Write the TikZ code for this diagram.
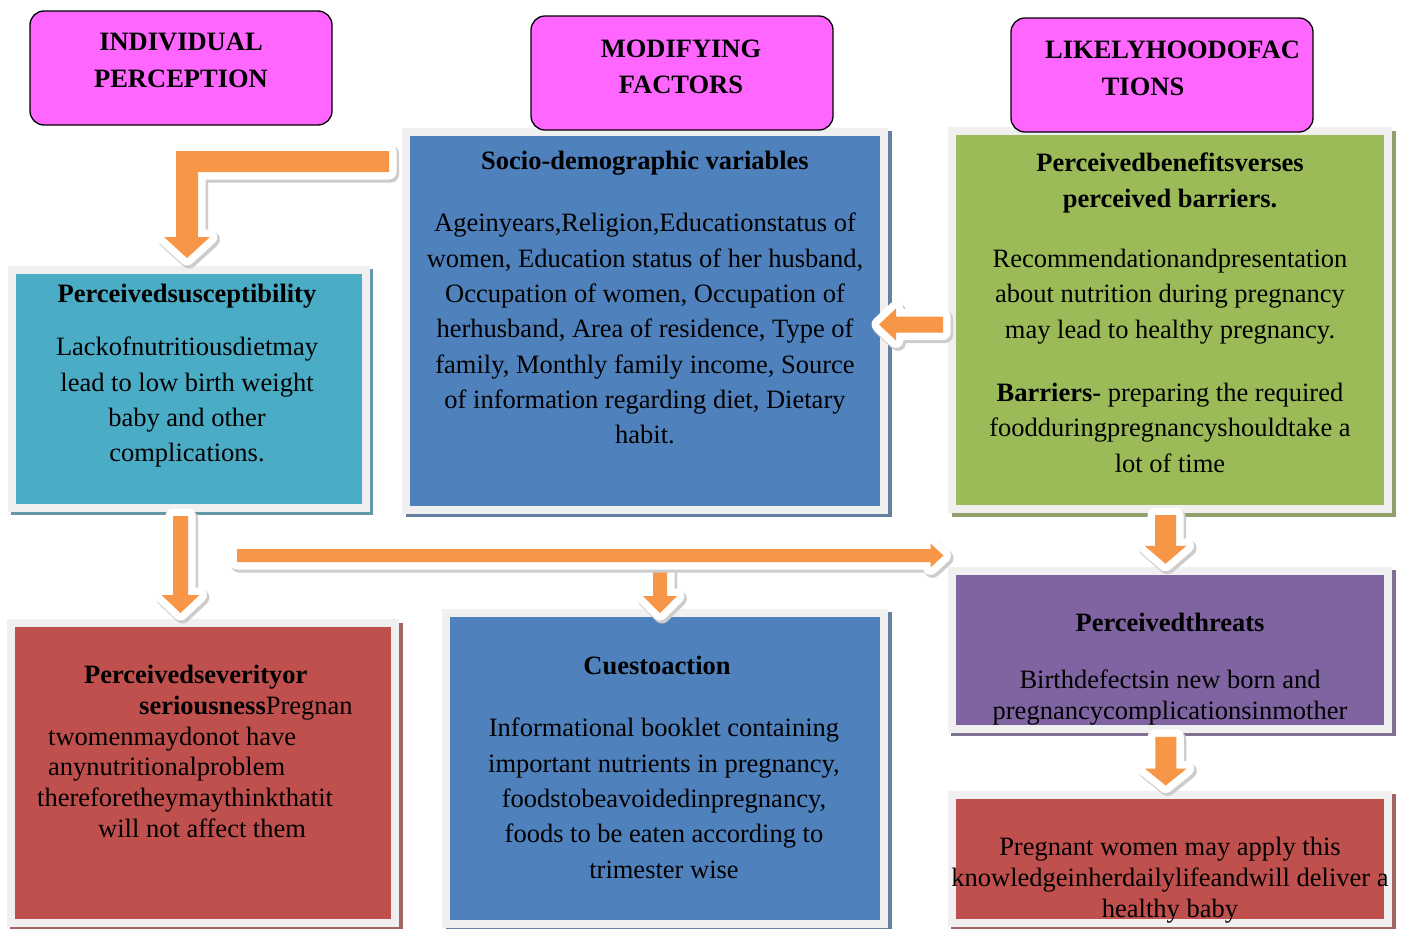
\documentclass[tikz,border=0pt]{standalone}
\usepackage{fontspec}
\setmainfont{Liberation Serif}
\usetikzlibrary{calc}
\definecolor{pinkc}{HTML}{FF66FF}
\definecolor{bluec}{HTML}{4F81BD}
\definecolor{greenc}{HTML}{9BBB59}
\definecolor{tealc}{HTML}{4BACC6}
\definecolor{redc}{HTML}{C0504D}
\definecolor{purplec}{HTML}{8064A2}
\definecolor{orangec}{HTML}{F79646}
\definecolor{framec}{HTML}{F0F0F0}
\tikzset{
 hdr/.style={draw=black, line width=1.3pt, rounded corners=14pt, fill=pinkc, minimum width=302pt, minimum height=114pt, inner sep=0pt},
 panel/.style={fill=#1, draw=framec, line width=8pt, inner sep=0pt,
   preaction={draw=#1!55!gray, line width=8pt, transform canvas={shift={(3.5pt,-3.5pt)}}}},
 txt/.style={inner sep=0pt, anchor=north, align=center, font=\fontsize{26.5}{35.3}\selectfont},
 btxt/.style={txt, font=\bfseries\fontsize{26.5}{36}\selectfont},
 fat/.style={fill=orangec, line join=round,
   preaction={draw=black!20, line width=16pt, line join=round, transform canvas={shift={(2pt,-2.5pt)}}},
   preaction={draw=white, line width=15pt, line join=round}},
}
% vertical arrow pointing down: start, tip, shaft half width, head half width, head length
\newcommand\fatdown[5]{\path[fat] let \p1=(#1), \p2=(#2) in
  (\x2-#3,\y1) -- (\x2+#3,\y1) -- (\x2+#3,\y2+#5) -- (\x2+#4,\y2+#5) -- (\p2)
  -- (\x2-#4,\y2+#5) -- (\x2-#3,\y2+#5) -- cycle;}
\newcommand\fatleft[5]{\path[fat] let \p1=(#1), \p2=(#2) in
  (\x1,\y2+#3) -- (\x2+#5,\y2+#3) -- (\x2+#5,\y2+#4) -- (\p2)
  -- (\x2+#5,\y2-#4) -- (\x2+#5,\y2-#3) -- (\x1,\y2-#3) -- cycle;}
\newcommand\fatright[5]{\path[fat] let \p1=(#1), \p2=(#2) in
  (\x1,\y2+#3) -- (\x2-#5,\y2+#3) -- (\x2-#5,\y2+#4) -- (\p2)
  -- (\x2-#5,\y2-#4) -- (\x2-#5,\y2-#3) -- (\x1,\y2-#3) -- cycle;}
\begin{document}
\begin{tikzpicture}[x=1pt,y=-1pt]
\useasboundingbox[fill=white] (0,0) rectangle (1406,929);
% panels
\node[panel=bluec, minimum width=478pt, minimum height=378pt] (socio) at (645,320.5) {};
\node[panel=greenc, minimum width=436pt, minimum height=378pt] (benefits) at (1170,320) {};
\node[panel=tealc, minimum width=354pt, minimum height=238pt] (suscept) at (188.5,388.5) {};
\node[panel=redc, minimum width=384.5pt, minimum height=299.5pt] (severity) at (202.75,772.75) {};
\node[panel=bluec, minimum width=438pt, minimum height=311pt] (cues) at (665,768) {};
\node[panel=purplec, minimum width=436.5pt, minimum height=158pt] (threats) at (1169.75,649.75) {};
\node[panel=redc, minimum width=436.5pt, minimum height=128.5pt] (outcome) at (1169.75,858.75) {};
% header boxes
\node[hdr] (p1) at (181,68) {};
\node[hdr] (p2) at (682,73) {};
\node[hdr] (p3) at (1162,75) {};
% connector coordinates
\coordinate (e1) at ([xshift=-13pt,yshift=-34pt]socio.north west);
\coordinate (e2) at ([xshift=-1.5pt,yshift=7.5pt]suscept.north);
\coordinate (a2s) at ([xshift=-8pt,yshift=-4.5pt]suscept.south);
\coordinate (a2e) at ($(a2s |- severity.north)+(0,-6)$);
\coordinate (a3s) at ($(benefits.west)+(-5,4.5)$);
\coordinate (a3e) at ($(socio.east |- a3s)+(-9,0)$);
\coordinate (a4s) at ($(benefits.south)+(-4.5,2)$);
\coordinate (a4e) at ($(a4s |- threats.north)+(0,-3)$);
\coordinate (a5s) at ($(threats.south)+(-4,4)$);
\coordinate (a5e) at ($(a5s |- outcome.north)+(0,-5)$);
\coordinate (h1s) at ($(suscept.south east)+(-132.5,44)$);
\coordinate (h1e) at ($(threats.west |- h1s)+(-4,0)$);
\coordinate (h2s) at ($(h1s -| cues.north)+(-5,6)$);
\coordinate (h2e) at ($(h2s |- cues.north)+(0,4.5)$);
% arrows
\path[fat] let \p1=(e1), \p2=(e2) in
  (\x1,\y1+10.5pt) -- (\x2-11pt,\y1+10.5pt) -- (\x2-11pt,\y2+21pt) -- (\x2-23pt,\y2+21pt) -- (\p2)
  -- (\x2+23pt,\y2+21pt) -- (\x2+11pt,\y2+21pt) -- (\x2+11pt,\y1-10.5pt) -- (\x1,\y1-10.5pt) -- cycle;
\fatdown{a2s}{a2e}{7.5pt}{19pt}{18pt}
\fatleft{a3s}{a3e}{8pt}{16pt}{17pt}
\fatdown{a4s}{a4e}{10.5pt}{21pt}{18pt}
\fatdown{a5s}{a5e}{10.5pt}{21pt}{17pt}
\fatdown{h2s}{h2e}{7pt}{17pt}{17pt}
\fatright{h1s}{h1e}{6.5pt}{12pt}{13pt}
% header texts
\node[btxt, font=\bfseries\fontsize{26.5}{37}\selectfont] (p1t) at (181,33) {INDIVIDUAL\\PERCEPTION};
\node[btxt] (p2t) at (681,40) {MODIFYING\\FACTORS};
\node[btxt, anchor=north west] (p3a) at (1045,41) {LIKELYHOODOFAC};
\node[btxt] (p3b) at (1143,78) {TIONS};
% panel texts
\node[btxt] (sociot) at (645,151) {Socio-demographic variables};
\node[txt] (sociob) at (645,213) {Ageinyears,Religion,Educationstatus of\\women, Education status of her husband,\\Occupation of women, Occupation of\\herhusband, Area of residence, Type of\\family, Monthly family income, Source\\of information regarding diet, Dietary\\habit.};
\node[btxt] (susceptt) at (187,284) {Perceivedsusceptibility};
\node[txt] (susceptb) at (187,337) {Lackofnutritiousdietmay\\lead to low birth weight\\baby and other\\complications.};
\node[btxt] (benefitst) at (1170,153) {Perceivedbenefitsverses\\perceived barriers.};
\node[txt] (benefitsb) at (1170,249) {Recommendationandpresentation\\about nutrition during pregnancy\\may lead to healthy pregnancy.};
\node[txt] (barriers) at (1170,383) {\textbf{Barriers-} preparing the required\\foodduringpregnancyshouldtake a\\lot of time};
\node[txt, anchor=north west, align=left, font=\fontsize{26.5}{30.8}\selectfont] (severityt) at (37,665)
 {\hspace*{47pt}\textbf{Perceivedseverityor}\\\hspace*{102pt}\textbf{seriousness}Pregnan\\\hspace*{11pt}twomenmaydonot have\\\hspace*{11pt}anynutritionalproblem\\thereforetheymaythinkthatit\\\hspace*{61pt}will not affect them};
\node[btxt] (cuest) at (657,656) {Cuestoaction};
\node[txt] (cuesb) at (664,718) {Informational booklet containing\\important nutrients in pregnancy,\\foodstobeavoidedinpregnancy,\\foods to be eaten according to\\trimester wise};
\node[btxt] (threatst) at (1170,613) {Perceivedthreats};
\node[txt, font=\fontsize{26.5}{31}\selectfont] (threatsb) at (1170,670) {Birthdefectsin new born and\\pregnancycomplicationsinmother};
\node[txt, font=\fontsize{26.5}{31}\selectfont] (outcomet) at (1170,837) {Pregnant women may apply this\\knowledgeinherdailylifeandwill deliver a\\healthy baby};
\end{tikzpicture}
\end{document}
